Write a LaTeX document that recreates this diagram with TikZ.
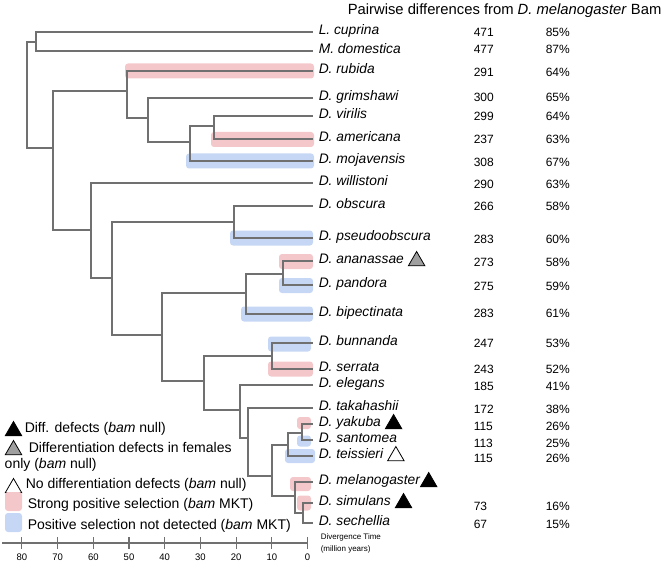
\documentclass[tikz,border=0pt]{standalone}
\usepackage{fontspec}
\setmainfont{Liberation Sans}
\usetikzlibrary{positioning, shapes.geometric}
\definecolor{treegray}{RGB}{112,112,112}
\definecolor{strongpink}{RGB}{244,200,203}
\definecolor{nodetblue}{RGB}{198,215,245}

\begin{document}
\begin{tikzpicture} [x = 1pt, y = -1pt, line width = 1.5pt,
  branch/.style = {draw = treegray, line width = 1.5pt, line cap = rect},
  sp/.style = {anchor = west, inner xsep = 6pt, inner ysep = 0pt, text height = 0.72em, text depth = 0.2em, font = \fontsize{13.8}{15}\selectfont\itshape},
  num/.style = {anchor = west, inner sep = 0pt, font = \fontsize{12}{14}\selectfont},
  leg/.style = {anchor = west, inner sep = 0pt, font = \fontsize{14}{16}\selectfont},
  tri/.style = {regular polygon, regular polygon sides = 3, draw = black, line width = 0.8pt, minimum size = 19pt, inner sep = 0pt},
  pinkhl/.style = {fill = strongpink, rounded corners = 3pt},
  bluehl/.style = {fill = nodetblue, rounded corners = 3pt}]

\useasboundingbox (0,0) rectangle (663,564);

% highlighted branches
\fill [pinkhl] (125,63.5) rectangle (314,78.5);
\fill [pinkhl] (211,132) rectangle (314,147);
\fill [bluehl] (186,153.5) rectangle (314,168.5);
\fill [bluehl] (230,230.5) rectangle (313,245.5);
\fill [pinkhl] (279,254) rectangle (313,269);
\fill [bluehl] (279,278) rectangle (313,293);
\fill [bluehl] (241,306.5) rectangle (313,321.5);
\fill [bluehl] (268,336.5) rectangle (311,351.5);
\fill [pinkhl] (268,361.5) rectangle (313,376.5);
\fill [pinkhl] (297,417) rectangle (311,429);
\fill [bluehl] (297,435.5) rectangle (311,446.5);
\fill [bluehl] (285,449) rectangle (315,463);
\fill [pinkhl] (290,477) rectangle (311,491);
\fill [pinkhl] (297,495.5) rectangle (311,510.5);

\node [anchor = west, inner sep = 0pt, font = \fontsize{14.8}{16}\selectfont] (head) at (347,11) {Pairwise differences from \textit{D. melanogaster} Bam};

% species
\node [sp] (cup) at (312,32) {L. cuprina};
\node [sp] (dom) at (312,51) {M. domestica};
\node [sp] (rub) at (312,71) {D. rubida};
\node [sp] (gri) at (312,98) {D. grimshawi};
\node [sp] (vir) at (312,116) {D. virilis};
\node [sp] (ame) at (312,139) {D. americana};
\node [sp] (moj) at (312,161) {D. mojavensis};
\node [sp] (wil) at (312,183) {D. willistoni};
\node [sp] (obs) at (312,206) {D. obscura};
\node [sp] (pse) at (312,238) {D. pseudoobscura};
\node [sp] (ana) at (312,261) {D. ananassae};
\node [sp] (pan) at (312,285) {D. pandora};
\node [sp] (bip) at (312,314) {D. bipectinata};
\node [sp] (bun) at (312,343) {D. bunnanda};
\node [sp] (ser) at (312,369) {D. serrata};
\node [sp] (ele) at (312,385) {D. elegans};
\node [sp] (tak) at (312,408) {D. takahashii};
\node [sp] (yak) at (312,424) {D. yakuba};
\node [sp] (san) at (312,440) {D. santomea};
\node [sp] (tei) at (312,456) {D. teissieri};
\node [sp] (mel) at (312,482) {D. melanogaster};
\node [sp] (sim) at (312,503) {D. simulans};
\node [sp] (sec) at (312,523) {D. sechellia};

\node [tri, fill = gray!75, right = 0pt of ana] (ana-tri) {};
\node [tri, fill = black, right = 0pt of yak] (yak-tri) {};
\node [tri, fill = white, right = 0pt of tei] (tei-tri) {};
\node [tri, fill = black, right = -4pt of mel] (mel-tri) {};
\node [tri, fill = black, right = 0pt of sim] (sim-tri) {};

% internal nodes
\coordinate (root) at (27,95);
\coordinate (lm) at (36,42);
\coordinate (dros) at (53,148);
\coordinate (rubc) at (127,91);
\coordinate (gric) at (148,118);
\coordinate (vmc) at (190,142);
\coordinate (vac) at (214,126);
\coordinate (wilc) at (91,230);
\coordinate (obmel) at (112,278);
\coordinate (obc) at (234,222);
\coordinate (melgrp) at (162,335);
\coordinate (anac) at (246,293);
\coordinate (anpa) at (283,274);
\coordinate (selc) at (204,381);
\coordinate (bunc) at (272,356);
\coordinate (elc) at (240,410);
\coordinate (takc) at (248,438);
\coordinate (melc) at (272,476);
\coordinate (ystc) at (288,445);
\coordinate (ysc) at (302,433);
\coordinate (mssc) at (295,496);
\coordinate (ssc) at (303,513);

\draw [branch] (root) |- (lm);
\draw [branch] (root) |- (dros);
\draw [branch] (lm) |- (cup);
\draw [branch] (lm) |- (dom);
\draw [branch] (dros) |- (rubc);
\draw [branch] (dros) |- (wilc);
\draw [branch] (rubc) |- (rub);
\draw [branch] (rubc) |- (gric);
\draw [branch] (gric) |- (gri);
\draw [branch] (gric) |- (vmc);
\draw [branch] (vmc) |- (vac);
\draw [branch] (vmc) |- (moj);
\draw [branch] (vac) |- (vir);
\draw [branch] (vac) |- (ame);
\draw [branch] (wilc) |- (wil);
\draw [branch] (wilc) |- (obmel);
\draw [branch] (obmel) |- (obc);
\draw [branch] (obmel) |- (melgrp);
\draw [branch] (obc) |- (obs);
\draw [branch] (obc) |- (pse);
\draw [branch] (melgrp) |- (anac);
\draw [branch] (melgrp) |- (selc);
\draw [branch] (anac) |- (anpa);
\draw [branch] (anac) |- (bip);
\draw [branch] (anpa) |- (ana);
\draw [branch] (anpa) |- (pan);
\draw [branch] (selc) |- (bunc);
\draw [branch] (selc) |- (elc);
\draw [branch] (bunc) |- (bun);
\draw [branch] (bunc) |- (ser);
\draw [branch] (elc) |- (ele);
\draw [branch] (elc) |- (takc);
\draw [branch] (takc) |- (tak);
\draw [branch] (takc) |- (melc);
\draw [branch] (melc) |- (ystc);
\draw [branch] (melc) |- (mssc);
\draw [branch] (ystc) |- (ysc);
\draw [branch] (ystc) |- (tei);
\draw [branch] (ysc) |- (yak);
\draw [branch] (ysc) |- (san);
\draw [branch] (mssc) |- (mel);
\draw [branch] (mssc) |- (ssc);
\draw [branch] (ssc) |- (sim);
\draw [branch] (ssc) |- (sec);

% pairwise differences
\node [num] (n-cup) at (473,32) {471};   \node [num] (p-cup) at (545,32) {85\%};
\node [num] (n-dom) at (473,49) {477};   \node [num] (p-dom) at (545,49) {87\%};
\node [num] (n-rub) at (473,72) {291};   \node [num] (p-rub) at (545,72) {64\%};
\node [num] (n-gri) at (473,97) {300};   \node [num] (p-gri) at (545,97) {65\%};
\node [num] (n-vir) at (473,116) {299};  \node [num] (p-vir) at (545,116) {64\%};
\node [num] (n-ame) at (473,139) {237};  \node [num] (p-ame) at (545,139) {63\%};
\node [num] (n-moj) at (473,162) {308};  \node [num] (p-moj) at (545,162) {67\%};
\node [num] (n-wil) at (473,184) {290};  \node [num] (p-wil) at (545,184) {63\%};
\node [num] (n-obs) at (473,206) {266};  \node [num] (p-obs) at (545,206) {58\%};
\node [num] (n-pse) at (473,239) {283};  \node [num] (p-pse) at (545,239) {60\%};
\node [num] (n-ana) at (473,262) {273};  \node [num] (p-ana) at (545,262) {58\%};
\node [num] (n-pan) at (473,286) {275};  \node [num] (p-pan) at (545,286) {59\%};
\node [num] (n-bip) at (473,313) {283};  \node [num] (p-bip) at (545,313) {61\%};
\node [num] (n-bun) at (473,343) {247};  \node [num] (p-bun) at (545,343) {53\%};
\node [num] (n-ser) at (473,369) {243};  \node [num] (p-ser) at (545,369) {52\%};
\node [num] (n-ele) at (473,386) {185};  \node [num] (p-ele) at (545,386) {41\%};
\node [num] (n-tak) at (473,409) {172};  \node [num] (p-tak) at (545,409) {38\%};
\node [num] (n-yak) at (473,426) {115};  \node [num] (p-yak) at (545,426) {26\%};
\node [num] (n-san) at (473,443) {113};  \node [num] (p-san) at (545,443) {25\%};
\node [num] (n-tei) at (473,458) {115};  \node [num] (p-tei) at (545,458) {26\%};
\node [num] (n-sim) at (473,506) {73};   \node [num] (p-sim) at (545,506) {16\%};
\node [num] (n-sec) at (473,524) {67};   \node [num] (p-sec) at (545,524) {15\%};

% legend
\node [tri, fill = black] (leg-blk) at (13.5,431) {};
\node [leg] (leg1) at (24,429) {Diff. defects (\textit{bam} null)};
\node [tri, fill = gray!75] (leg-gry) at (13.5,450) {};
\node [leg] (leg2) at (28,447) {Differentiation defects in females};
\node [leg] (leg2b) at (4,465) {only (\textit{bam} null)};
\node [tri, fill = white] (leg-wht) at (13.5,488) {};
\node [leg] (leg3) at (25,485) {No differentiation defects (\textit{bam} null)};
\fill [pinkhl] (5,492) rectangle (22,511);
\node [leg] (leg4) at (27,505) {Strong positive selection (\textit{bam} MKT)};
\fill [bluehl] (5,513) rectangle (22,532);
\node [leg] (leg5) at (27,526) {Positive selection not detected (\textit{bam} MKT)};

% time axis
\coordinate (ax-l) at (2,543);
\coordinate (ax-r) at (308,543);
\draw [treegray, line width = 1.2pt] (ax-l) -- (ax-r);
\foreach \t in {0,10,...,80}
  {
  \draw [treegray, line width = 1.2pt] (307.5-3.57*\t,537) -- ++(0,12);
  \node [inner sep = 0pt, font = \fontsize{9.5}{11}\selectfont] at (307.5-3.57*\t,557.5) {\t};
  }
\node [anchor = west, inner sep = 0pt, font = \fontsize{8}{10}\selectfont] (axlab1) at (320,537) {Divergence Time};
\node [anchor = west, inner sep = 0pt, font = \fontsize{8}{10}\selectfont] (axlab2) at (320,549) {(million years)};

\end{tikzpicture}
\end{document}
